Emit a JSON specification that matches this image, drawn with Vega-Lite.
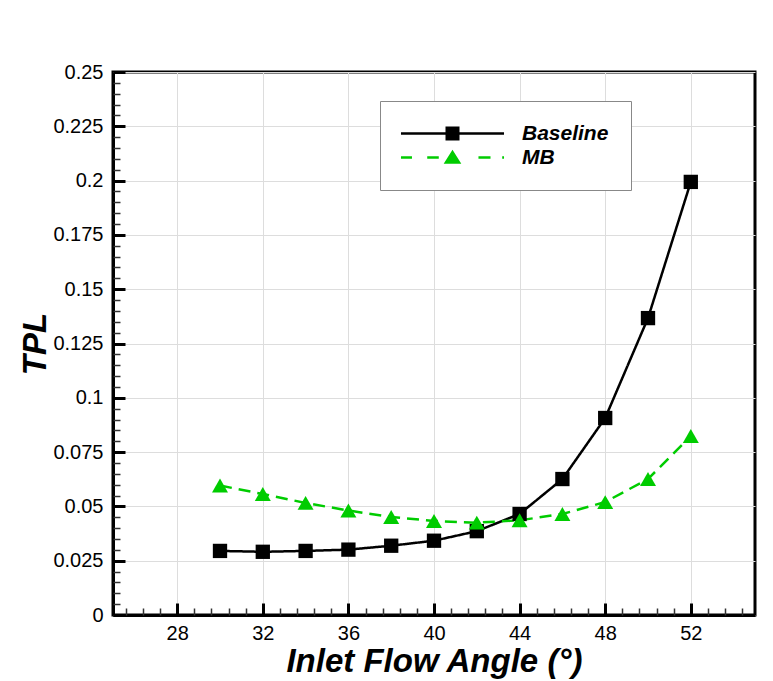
{
  "$schema": "https://vega.github.io/schema/vega-lite/v6.json",
  "width": 642,
  "height": 543,
  "autosize": "none",
  "padding": {"left": 113, "top": 72, "right": 18, "bottom": 66},
  "background": "white",
  "config": {
    "font": "Liberation Sans",
    "view": {"stroke": "black", "strokeWidth": 3},
    "axis": {"labelColor": "black", "titleColor": "black"}
  },
  "data": {
    "values": [
      {"angle": 30, "tpl": 0.0295, "series": "Baseline"},
      {"angle": 32, "tpl": 0.0291, "series": "Baseline"},
      {"angle": 34, "tpl": 0.0295, "series": "Baseline"},
      {"angle": 36, "tpl": 0.0301, "series": "Baseline"},
      {"angle": 38, "tpl": 0.0319, "series": "Baseline"},
      {"angle": 40, "tpl": 0.0342, "series": "Baseline"},
      {"angle": 42, "tpl": 0.0386, "series": "Baseline"},
      {"angle": 44, "tpl": 0.0465, "series": "Baseline"},
      {"angle": 46, "tpl": 0.0626, "series": "Baseline"},
      {"angle": 48, "tpl": 0.0907, "series": "Baseline"},
      {"angle": 50, "tpl": 0.1367, "series": "Baseline"},
      {"angle": 52, "tpl": 0.1994, "series": "Baseline"},
      {"angle": 30, "tpl": 0.0596, "series": "MB"},
      {"angle": 32, "tpl": 0.0557, "series": "MB"},
      {"angle": 34, "tpl": 0.0516, "series": "MB"},
      {"angle": 36, "tpl": 0.0481, "series": "MB"},
      {"angle": 38, "tpl": 0.0451, "series": "MB"},
      {"angle": 40, "tpl": 0.0433, "series": "MB"},
      {"angle": 42, "tpl": 0.0425, "series": "MB"},
      {"angle": 44, "tpl": 0.0436, "series": "MB"},
      {"angle": 46, "tpl": 0.0465, "series": "MB"},
      {"angle": 48, "tpl": 0.052, "series": "MB"},
      {"angle": 50, "tpl": 0.0626, "series": "MB"},
      {"angle": 52, "tpl": 0.0824, "series": "MB"}
    ]
  },
  "layer": [
    {
      "mark": {"type": "line", "strokeWidth": 2.5},
      "encoding": {
        "x": {
          "field": "angle", "type": "quantitative",
          "scale": {"domain": [25, 55], "nice": false, "zero": false},
          "axis": {
            "orient": "bottom",
            "values": [28, 32, 36, 40, 44, 48, 52],
            "title": "Inlet Flow Angle (°)",
            "titleFontSize": 33, "titleFontWeight": "bold", "titleFontStyle": "italic",
            "titlePadding": 2,
            "labelFontSize": 20, "labelPadding": 20,
            "tickSize": -12, "tickWidth": 3, "tickColor": "black",
            "domainColor": "black", "domainWidth": 3,
            "grid": true, "gridColor": "#dddddd", "gridWidth": 1
          }
        },
        "y": {
          "field": "tpl", "type": "quantitative",
          "scale": {"domain": [0, 0.25], "nice": false},
          "axis": {
            "orient": "left",
            "values": [0, 0.025, 0.05, 0.075, 0.1, 0.125, 0.15, 0.175, 0.2, 0.225, 0.25],
            "format": ".3~f",
            "title": "TPL",
            "titleFontSize": 33, "titleFontWeight": "bold", "titleFontStyle": "italic",
            "titlePadding": 0,
            "labelFontSize": 20, "labelPadding": 22,
            "tickSize": -12, "tickWidth": 3, "tickColor": "black",
            "domainColor": "black", "domainWidth": 3,
            "grid": true, "gridColor": "#dddddd", "gridWidth": 1
          }
        },
        "color": {
          "field": "series", "type": "nominal",
          "scale": {"domain": ["Baseline", "MB"], "range": ["black", "#00cc00"]},
          "legend": {
            "orient": "none", "legendX": 267, "legendY": 29,
            "title": null,
            "padding": 22,
            "strokeColor": "#888888", "fillColor": "white",
            "symbolSize": 196, "symbolOffset": 40, "labelOffset": 59,
            "rowPadding": 2,
            "labelFontSize": 21, "labelFontWeight": "bold", "labelFontStyle": "italic", "labelColor": "black",
            "encode": {
              "symbols": {
                "update": {
                  "shape": {"signal": "datum.value === 'Baseline' ? 'M-7.36,-0.18H7.36V0.18H-7.36ZM-1,-1H1V1H-1Z' : 'M-7.36,-0.18H-5.79V0.18H-7.36ZM-3.61,-0.18H-1.96V0.18H-3.61ZM3.71,-0.18H5.43V0.18H3.71ZM7.1,-0.18H7.36V0.18H7.1ZM0,-1.1L1.26,0.9L-1.26,0.9Z'"},
                  "fill": {"signal": "datum.value === 'Baseline' ? 'black' : '#00cc00'"},
                  "fillOpacity": {"value": 1},
                  "strokeWidth": {"value": 0},
                  "strokeDash": {"value": [1, 0]},
                  "opacity": {"value": 1}
                }
              }
            }
          }
        },
        "strokeDash": {
          "field": "series", "type": "nominal",
          "scale": {"domain": ["Baseline", "MB"], "range": [[1, 0], [12, 7]]},
          "legend": null
        }
      }
    },
    {
      "transform": [{"filter": "datum.series === 'Baseline'"}],
      "mark": {"type": "point", "filled": true, "opacity": 1, "shape": "square", "size": 205, "color": "black"},
      "encoding": {
        "x": {
          "field": "angle", "type": "quantitative",
          "axis": {
            "orient": "bottom",
            "values": [25.6, 26.4, 27.2, 28.8, 29.6, 30.4, 31.2, 32.8, 33.6, 34.4, 35.2, 36.8, 37.6, 38.4, 39.2, 40.8, 41.6, 42.4, 43.2, 44.8, 45.6, 46.4, 47.2, 48.8, 49.6, 50.4, 51.2, 52.8, 53.6, 54.4],
            "title": null, "labels": false, "domain": false, "grid": false,
            "tickSize": -7, "tickWidth": 1.5, "tickColor": "#333333"
          }
        },
        "y": {
          "field": "tpl", "type": "quantitative",
          "axis": {
            "orient": "left",
            "values": [0.005, 0.01, 0.015, 0.02, 0.03, 0.035, 0.04, 0.045, 0.055, 0.06, 0.065, 0.07, 0.08, 0.085, 0.09, 0.095, 0.105, 0.11, 0.115, 0.12, 0.13, 0.135, 0.14, 0.145, 0.155, 0.16, 0.165, 0.17, 0.18, 0.185, 0.19, 0.195, 0.205, 0.21, 0.215, 0.22, 0.23, 0.235, 0.24, 0.245],
            "title": null, "labels": false, "domain": false, "grid": false,
            "tickSize": -7, "tickWidth": 1.5, "tickColor": "#333333"
          }
        }
      }
    },
    {
      "transform": [{"filter": "datum.series === 'MB'"}],
      "mark": {"type": "point", "filled": true, "opacity": 1, "shape": "triangle-up", "size": 256, "color": "#00cc00"},
      "encoding": {
        "x": {"field": "angle", "type": "quantitative", "axis": null},
        "y": {"field": "tpl", "type": "quantitative", "axis": null}
      }
    }
  ],
  "resolve": {"axis": {"x": "independent", "y": "independent"}}
}
